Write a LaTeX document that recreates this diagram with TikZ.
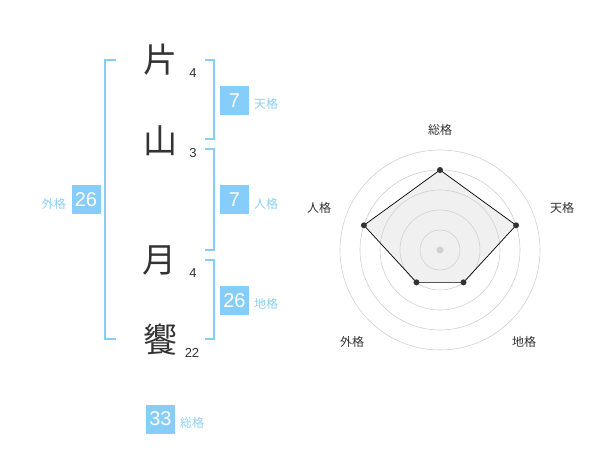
\documentclass[tikz,border=0pt]{standalone}
\usepackage{fontspec}
\setmainfont{Liberation Sans}
\newfontfamily\jp{Noto Sans CJK JP}
\definecolor{kakublue}{HTML}{86CDF9}
\definecolor{kakutext}{HTML}{8CCFF5}
\definecolor{ringgray}{HTML}{D0D0D0}
\definecolor{areagray}{HTML}{F0F0F0}
\definecolor{inkdark}{HTML}{333333}
\tikzset{
  kanji/.style={font=\jp\fontsize{34}{34}\selectfont, text=inkdark, inner sep=0pt},
  strokes/.style={font=\fontsize{13}{13}\selectfont, text=inkdark, inner sep=0pt},
  kakubox/.style={fill=kakublue, text=white, minimum size=29pt, inner sep=0pt,
    font=\fontsize{20}{20}\selectfont},
  kakuname/.style={font=\jp\fontsize{12}{12}\selectfont, text=kakutext, inner sep=0pt},
  bracket/.style={draw=kakublue, line width=1.8pt},
  axislabel/.style={font=\jp\fontsize{12}{12}\selectfont, text=inkdark, inner sep=0pt},
  vertex/.style={circle, fill=inkdark, inner sep=0pt, minimum size=6pt},
}
\begin{document}
\begin{tikzpicture}[x=1pt,y=-1pt]
  \useasboundingbox (0,0) rectangle (600,470);
  % name and stroke counts
  \node[kanji] (c1) at (160,60) {片};
  \node[kanji] (c2) at (160,141) {山};
  \node[kanji] (c3) at (159,260) {月};
  \node[kanji] (c4) at (160,340) {饗};
  \node[strokes] (s1) at (193,73) {4};
  \node[strokes] (s2) at (193,153) {3};
  \node[strokes] (s3) at (193,273) {4};
  \node[strokes] (s4) at (192,353) {22};
  % brackets
  \draw[bracket] (116,60) -- (105,60) -- (105,339) -- (116,339);
  \draw[bracket] (205,60) -- (214,60) -- (214,139) -- (205,139);
  \draw[bracket] (205,149) -- (214,149) -- (214,250) -- (205,250);
  \draw[bracket] (205,260) -- (214,260) -- (214,339) -- (205,339);
  % kaku values
  \node[kakubox] (ten) at (234.5,100.5) {7};
  \node[kakubox] (jin) at (234.5,200) {7};
  \node[kakubox] (chi) at (234.5,300.5) {26};
  \node[kakubox] (gai) at (86,200) {26};
  \node[kakubox] (sou) at (160.5,419) {33};
  \node[kakuname, anchor=west] (tenName) at (254,104) {天格};
  \node[kakuname, anchor=west] (jinName) at (254,204) {人格};
  \node[kakuname, anchor=west] (chiName) at (254,304) {地格};
  \node[kakuname, anchor=east] (gaiName) at (66,204) {外格};
  \node[kakuname, anchor=west] (souName) at (180,423) {総格};
  % radar chart
  \begin{scope}[shift={(440,250)}]
    \coordinate (rSou) at (90:80pt);
    \coordinate (rTen) at (18:80pt);
    \coordinate (rChi) at (-54:40pt);
    \coordinate (rGai) at (-126:40pt);
    \coordinate (rJin) at (162:80pt);
    \fill[areagray] (rSou) -- (rTen) -- (rChi) -- (rGai) -- (rJin) -- cycle;
    \foreach \r in {20,40,60,80,100}
      \draw[ringgray, line width=0.6pt] (0,0) circle[radius=\r pt];
    \fill[ringgray] (0,0) circle[radius=3.5pt];
    \draw[black, line width=0.7pt] (rSou) -- (rTen) -- (rChi) -- (rGai) -- (rJin) -- cycle;
    \foreach \k in {Sou,Ten,Chi,Gai,Jin}
      \node[vertex] (v\k) at (r\k) {};
  \end{scope}
  \node[axislabel] (aSou) at (440,130) {総格};
  \node[axislabel] (aTen) at (562,208) {天格};
  \node[axislabel] (aJin) at (319,208) {人格};
  \node[axislabel] (aGai) at (352,342) {外格};
  \node[axislabel] (aChi) at (524,342) {地格};
\end{tikzpicture}
\end{document}
